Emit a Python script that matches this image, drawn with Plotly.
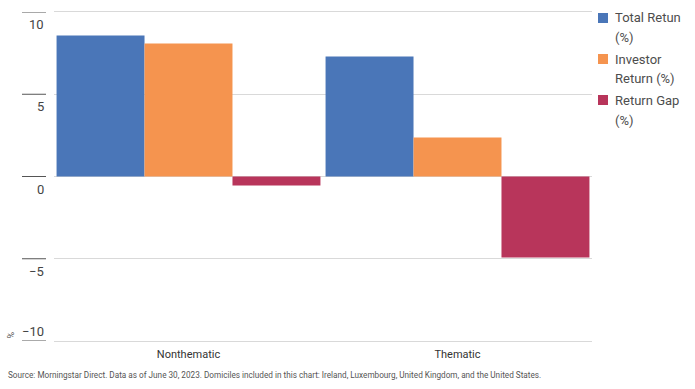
import plotly.graph_objects as go

categories = ["Nonthematic", "Thematic"]
series_names = ["Total Retun (%)", "Investor Return (%)", "Return Gap (%)"]
legend_lines = [["Total Retun", "(%)"], ["Investor", "Return (%)"], ["Return Gap", "(%)"]]
total_return = [8.57, 7.29]
investor_return = [8.08, 2.37]
return_gap = [-0.55, -4.92]
colors = ["#4a76b8", "#f5944f", "#b8355b"]
y_ticks = [10, 5, 0, -5, -10]
tick_labels = ["10", "5", "0", "\u22125", "\u221210"]

fig = go.Figure()
for name, vals, c in zip(series_names, [total_return, investor_return, return_gap], colors):
    fig.add_trace(go.Bar(x=categories, y=vals, name=name, marker_color=c,
                         marker_line_width=0, showlegend=False))

W, H = 695, 389
L, R, T, B = 54, 103, 12, 48
pw, ph = W - L - R, H - T - B


def px_x(x):
    return (x - L) / pw


def px_y(y):
    return (H - B - y) / ph


font = "Roboto"
fig.update_layout(
    width=W, height=H,
    margin=dict(l=L, r=R, t=T, b=B, autoexpand=False),
    paper_bgcolor="white", plot_bgcolor="white",
    barmode="group", bargap=0.019, bargroupgap=0,
    font=dict(family=font, size=12, color="#333333"),
    showlegend=False,
    xaxis=dict(showgrid=False, showline=True, mirror=True, linecolor="#d9d9d9",
               linewidth=1, ticks="", ticklabelstandoff=3,
               tickfont=dict(size=11, color="#333333")),
    yaxis=dict(range=[-10, 10], tickvals=y_ticks, showticklabels=False,
               showgrid=True, gridcolor="#d9d9d9", gridwidth=1,
               zeroline=True, zerolinecolor="#d9d9d9", zerolinewidth=1),
)

# y tick marks and labels
for v, lab in zip(y_ticks, tick_labels):
    fig.add_shape(type="line", xref="paper", yref="y", x0=px_x(22), x1=px_x(46),
                  y0=v, y1=v, line=dict(color="#555555", width=1))
    below = v != -10
    fig.add_annotation(xref="paper", yref="y", x=px_x(46), y=v, text=lab,
                       showarrow=False, xanchor="right",
                       yanchor="top" if below else "bottom",
                       yshift=-3 if below else 0,
                       font=dict(size=13, color="#444444"))

fig.add_annotation(xref="paper", yref="y", x=px_x(17), y=-10, text="%",
                   textangle=-90, showarrow=False, xanchor="right", yanchor="bottom",
                   font=dict(size=9, color="#555555"))

# legend (drawn manually to match wrapped layout)
sq_tops = [13, 54, 95]
for i, (lines, c) in enumerate(zip(legend_lines, colors)):
    top = sq_tops[i]
    fig.add_shape(type="rect", xref="paper", yref="paper",
                  x0=px_x(598), x1=px_x(608), y0=px_y(top), y1=px_y(top + 10),
                  fillcolor=c, line=dict(width=0))
    for j, t in enumerate(lines):
        fig.add_annotation(xref="paper", yref="paper", x=px_x(613),
                           y=px_y(top + 5 + 20 * j), text=t, showarrow=False,
                           xanchor="left", yanchor="middle",
                           font=dict(size=13, color="#4d4d4d"))

fig.add_annotation(xref="paper", yref="paper", x=px_x(6), y=px_y(375),
                   text="Source: Morningstar Direct. Data as of June 30, 2023. Domiciles included in this chart: Ireland, Luxembourg, United Kingdom, and the United States.",
                   showarrow=False, xanchor="left", yanchor="middle",
                   font=dict(size=8.2, color="#555555"))

fig.write_html("out.html", config={"displayModeBar": False},
               post_script="document.body.style.margin='0';")
